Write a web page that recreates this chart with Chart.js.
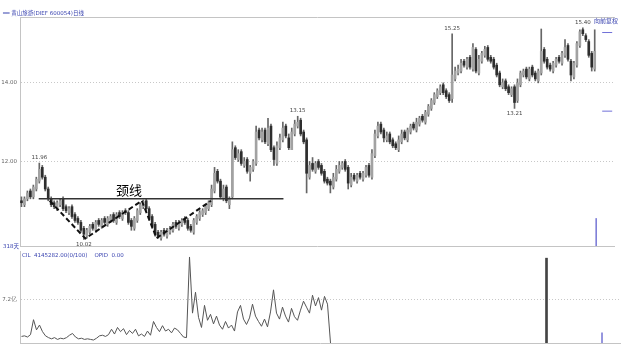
<!DOCTYPE html>
<html>
<head>
<meta charset="utf-8">
<script src="https://cdn.jsdelivr.net/npm/chart.js@4.4.0/dist/chart.umd.min.js"></script>
<style>
  html, body { margin: 0; padding: 0; background: #fff; }
  body { width: 621px; height: 352px; position: relative; overflow: hidden; font-family: "DejaVu Sans", "Noto Sans CJK SC", sans-serif; }
  #priceCanvas { position: absolute; left: 0; top: 0; }
  #volCanvas { position: absolute; left: 0; top: 250px; }
  .txt { position: absolute; white-space: nowrap; line-height: 1; font-size: 5.5px; }
  .blue { color: #3a44b0; }
  .mark { color: #444; transform: translateX(-50%); }
</style>
</head>
<body>
<canvas id="priceCanvas" width="621" height="252"></canvas>
<canvas id="volCanvas" width="621" height="102"></canvas>
<div class="txt blue" style="left:3px;top:11px;">══ 黄山旅游(DIEF 600054)日线</div>
<div class="txt blue" style="left:594px;top:18px;font-size:6px;">向前复权</div>
<div class="txt blue" style="left:3px;top:244px;">318天</div>
<div class="txt blue" style="left:22px;top:253px;">CIL&nbsp;&nbsp;4145282.00(0/100)&nbsp;&nbsp;&nbsp;&nbsp;OPID&nbsp;&nbsp;0.00</div>
<div class="txt" style="left:116px;top:183px;font-size:13px;color:#000;font-family:'Noto Sans CJK SC';">颈线</div>
<script>
// daily candles, index 0 = leftmost bar
var opens = [
  11.0, 10.9, 11.05, 11.25, 11.1, 11.3, 11.5, 11.85, 11.6, 11.3,
  11.05, 10.95, 10.8, 10.9, 11.05, 10.85, 10.7, 10.85, 10.65, 10.55,
  10.45, 10.3, 10.1, 10.2, 10.4, 10.25, 10.5, 10.35, 10.55, 10.4,
  10.5, 10.65, 10.45, 10.7, 10.55, 10.75, 10.7, 10.5, 10.3, 10.5,
  10.7, 10.85, 11.0, 10.8, 10.6, 10.4, 10.2, 10.05, 10.25, 10.1,
  10.2, 10.25, 10.45, 10.3, 10.4, 10.55, 10.5, 10.35, 10.2, 10.45,
  10.55, 10.65, 10.7, 10.8, 10.9, 11.25, 11.75, 11.5, 11.05, 11.35,
  10.9, 11.1, 12.35, 12.05, 12.25, 11.9, 12.05, 11.7, 11.8, 11.95,
  12.8, 12.55, 12.8, 12.45, 12.9, 12.35, 11.95, 12.35, 12.55, 12.9,
  12.6, 12.3, 12.7, 12.9, 13.05, 12.75, 12.55, 11.6, 11.95, 11.75,
  12.0, 11.9, 11.75, 11.55, 11.5, 11.35, 11.55, 11.75, 11.85, 12.0,
  11.85, 11.4, 11.65, 11.5, 11.7, 11.55, 11.65, 11.9, 11.6, 12.15,
  12.65, 12.95, 12.8, 12.55, 12.7, 12.55, 12.45, 12.3, 12.5, 12.75,
  12.55, 12.75, 12.95, 12.8, 12.95, 13.15, 13.0, 13.2, 13.35, 13.5,
  13.65, 13.75, 13.95, 13.8, 13.7, 13.6, 14.1, 14.25, 14.3, 14.55,
  14.4, 14.65, 14.35, 14.85, 14.25, 14.55, 14.7, 14.9, 14.65, 14.6,
  14.45, 14.25, 13.9, 14.05, 13.9, 13.7, 13.9, 13.55, 13.95, 14.2,
  14.35, 14.1, 14.4, 14.25, 14.05, 14.25, 14.85, 14.6, 14.45, 14.3,
  14.45, 14.65, 14.5, 14.7, 14.95, 14.55, 14.15, 14.45, 14.95, 15.35,
  15.2, 15.05, 14.75, 14.35
];
var highs = [
  11.1, 11.1, 11.25, 11.3, 11.4, 11.6, 11.96, 11.9, 11.65, 11.35,
  11.1, 11.0, 11.0, 11.05, 11.1, 10.9, 10.85, 10.9, 10.7, 10.6,
  10.5, 10.35, 10.3, 10.4, 10.45, 10.5, 10.55, 10.55, 10.6, 10.6,
  10.65, 10.7, 10.7, 10.75, 10.75, 10.8, 10.75, 10.55, 10.6, 10.8,
  10.95, 11.02, 11.05, 10.85, 10.65, 10.45, 10.25, 10.25, 10.3, 10.3,
  10.35, 10.45, 10.5, 10.5, 10.55, 10.6, 10.55, 10.4, 10.55, 10.65,
  10.75, 10.8, 10.9, 11.0, 11.4, 11.85, 11.8, 11.55, 11.4, 11.4,
  11.1, 12.5, 12.4, 12.3, 12.3, 12.1, 12.1, 11.9, 12.05, 12.9,
  12.85, 12.85, 12.85, 13.1, 12.95, 12.4, 12.5, 12.7, 13.0, 12.95,
  12.7, 12.85, 13.05, 13.15, 13.1, 12.8, 12.6, 12.0, 12.1, 12.0,
  12.05, 11.95, 11.8, 11.6, 11.55, 11.7, 11.9, 12.0, 12.0, 12.05,
  11.9, 11.7, 11.7, 11.7, 11.75, 11.75, 11.9, 11.95, 12.3, 12.8,
  13.0, 13.0, 12.85, 12.75, 12.75, 12.6, 12.5, 12.65, 12.8, 12.8,
  12.85, 12.95, 13.0, 13.1, 13.15, 13.2, 13.3, 13.45, 13.6, 13.75,
  13.85, 13.95, 14.0, 13.85, 13.75, 15.25, 14.4, 14.45, 14.6, 14.6,
  14.65, 14.7, 15.0, 14.9, 14.7, 14.8, 14.93, 14.95, 14.7, 14.65,
  14.5, 14.3, 14.1, 14.1, 13.95, 13.9, 13.95, 14.1, 14.3, 14.35,
  14.4, 14.4, 14.45, 14.3, 14.35, 15.37, 14.9, 14.65, 14.5, 14.55,
  14.65, 14.7, 14.8, 15.1, 15.0, 14.6, 14.55, 15.05, 15.35, 15.4,
  15.25, 15.1, 14.8, 15.35
];
var lows = [
  10.85, 10.85, 11.0, 11.05, 11.05, 11.25, 11.45, 11.55, 11.25, 11.0,
  10.85, 10.8, 10.75, 10.85, 10.75, 10.7, 10.65, 10.55, 10.45, 10.4,
  10.2, 10.02, 10.05, 10.15, 10.25, 10.2, 10.35, 10.3, 10.4, 10.35,
  10.45, 10.45, 10.4, 10.55, 10.5, 10.65, 10.4, 10.25, 10.25, 10.45,
  10.65, 10.8, 10.75, 10.5, 10.3, 10.1, 10.05, 10.0, 10.1, 10.05,
  10.15, 10.2, 10.3, 10.25, 10.35, 10.4, 10.25, 10.2, 10.15, 10.4,
  10.5, 10.6, 10.65, 10.75, 10.85, 11.2, 11.45, 11.05, 11.0, 10.95,
  10.8, 11.05, 12.05, 12.0, 11.9, 11.85, 11.7, 11.5, 11.75, 11.9,
  12.55, 12.5, 12.45, 12.4, 12.25, 11.9, 11.9, 12.3, 12.5, 12.6,
  12.3, 12.3, 12.65, 12.85, 12.65, 12.45, 11.2, 11.55, 11.75, 11.7,
  11.8, 11.65, 11.45, 11.4, 11.2, 11.3, 11.5, 11.7, 11.8, 11.75,
  11.3, 11.35, 11.5, 11.45, 11.55, 11.5, 11.6, 11.6, 11.55, 12.1,
  12.6, 12.7, 12.5, 12.5, 12.45, 12.35, 12.3, 12.25, 12.45, 12.55,
  12.5, 12.7, 12.8, 12.75, 12.9, 13.0, 12.95, 13.15, 13.3, 13.45,
  13.6, 13.7, 13.7, 13.6, 13.5, 13.5, 14.05, 14.2, 14.25, 14.4,
  14.35, 14.35, 14.3, 14.25, 14.2, 14.5, 14.65, 14.55, 14.5, 14.35,
  14.15, 13.9, 13.85, 13.8, 13.7, 13.65, 13.35, 13.5, 13.9, 14.15,
  14.1, 14.05, 14.15, 14.05, 14.0, 14.2, 14.5, 14.35, 14.3, 14.25,
  14.4, 14.5, 14.45, 14.65, 14.55, 14.05, 14.1, 14.4, 14.9, 15.2,
  15.05, 14.65, 14.3, 14.3
];
var closes = [
  10.95, 11.05, 11.2, 11.1, 11.35, 11.55, 11.8, 11.6, 11.3, 11.05,
  10.9, 10.85, 10.95, 11.0, 10.8, 10.75, 10.8, 10.6, 10.5, 10.45,
  10.25, 10.15, 10.25, 10.35, 10.3, 10.45, 10.4, 10.5, 10.45, 10.55,
  10.6, 10.5, 10.65, 10.6, 10.7, 10.7, 10.45, 10.35, 10.55, 10.75,
  10.9, 10.98, 10.8, 10.55, 10.35, 10.15, 10.1, 10.2, 10.15, 10.25,
  10.3, 10.4, 10.35, 10.45, 10.5, 10.45, 10.3, 10.25, 10.5, 10.6,
  10.7, 10.75, 10.85, 10.95, 11.3, 11.7, 11.5, 11.1, 11.3, 11.0,
  11.05, 12.3, 12.1, 12.2, 11.95, 12.0, 11.75, 11.85, 12.0, 12.75,
  12.6, 12.75, 12.5, 12.85, 12.3, 12.05, 12.4, 12.6, 12.85, 12.65,
  12.35, 12.75, 12.95, 13.0, 12.7, 12.5, 11.7, 11.9, 11.8, 11.95,
  11.85, 11.7, 11.5, 11.45, 11.4, 11.6, 11.8, 11.9, 11.95, 11.8,
  11.45, 11.6, 11.55, 11.65, 11.6, 11.7, 11.85, 11.65, 12.2, 12.7,
  12.9, 12.75, 12.6, 12.65, 12.5, 12.4, 12.35, 12.55, 12.7, 12.6,
  12.8, 12.9, 12.85, 13.0, 13.1, 13.05, 13.25, 13.4, 13.55, 13.7,
  13.8, 13.9, 13.75, 13.65, 13.55, 14.2, 14.3, 14.35, 14.5, 14.45,
  14.6, 14.4, 14.9, 14.3, 14.6, 14.75, 14.85, 14.6, 14.55, 14.4,
  14.2, 13.95, 14.0, 13.85, 13.75, 13.85, 13.5, 14.0, 14.25, 14.3,
  14.15, 14.35, 14.2, 14.1, 14.3, 14.8, 14.55, 14.4, 14.35, 14.5,
  14.6, 14.55, 14.75, 14.9, 14.6, 14.2, 14.5, 15.0, 15.3, 15.25,
  15.1, 14.7, 14.4, 14.8
];

// volume in 亿, series stops at bar 103
var volumes = [
  1.1, 1.2, 1.0, 1.4, 3.9, 2.2, 3.0, 1.9, 1.2, 0.9,
  0.7, 0.9, 0.6, 0.8, 0.7, 0.9, 1.3, 1.6, 1.0, 0.7,
  0.8, 0.6, 0.7, 0.6, 0.5, 0.8, 1.2, 1.3, 1.1, 1.4,
  2.3, 1.5, 2.6, 1.9, 2.4, 1.4, 2.1, 1.6, 2.3, 1.2,
  1.5, 1.1, 2.0, 1.3, 3.6, 2.6, 1.9, 2.9, 2.0, 2.3,
  1.7, 2.5, 2.2, 1.6, 1.0, 0.9, 14.4, 5.0, 8.5, 4.3,
  2.6, 6.3, 3.8, 4.8, 3.2, 4.5, 3.0, 2.3, 3.6, 2.5,
  3.0, 2.0, 5.2, 6.3, 4.0, 3.1, 4.2, 6.5, 4.5, 3.6,
  2.8, 4.0, 2.7, 5.2, 8.9, 5.0, 4.0, 6.0, 4.5, 3.5,
  5.8, 4.4, 3.8, 5.5, 7.0, 6.0, 5.0, 8.0, 6.2, 7.6,
  5.5, 7.8, 6.5, 0
];
var spikeIdx = 175, spikeVol = 14.2;
var cursorIdx = 193, cursorVol = 1.7, cursorPrice = [9.85, 10.55];

// neckline and the W pattern (bar index, price)
var neckX = [5.8, 88.2];
var neckY = [11.05, 11.05];
var patternX = [9.5, 21.5, 40.5, 45.5, 63.8];
var patternY = [11.0, 10.04, 11.0, 10.05, 11.0];

// right side price markers
var sideMarks = [15.28, 13.28];

// high / low labels
var markIdx = [6, 21, 93, 145, 166, 189];
var markText = ['11.96', '10.02', '13.15', '15.25', '13.21', '15.40'];
var markSide = ['high', 'low', 'high', 'high', 'low', 'high'];

var priceTicks = [12, 14];
var volTicks = [7.2];

function pts(xs, ys) {
  return xs.map(function (x, i) { return { x: x, y: ys[i] }; });
}

var wickData = highs.map(function (h, i) { return { x: i, y: [lows[i], h] }; });
var bodyData = opens.map(function (o, i) { return { x: i, y: [o, closes[i]] }; });
var bodyColors = opens.map(function (o, i) { return closes[i] >= o ? '#a2a2a2' : '#2e2e2e'; });

var framePlugin = {
  id: 'frame',
  afterDraw: function (chart, args, opts) {
    var ctx = chart.ctx, a = chart.chartArea;
    ctx.save();
    ctx.strokeStyle = '#c4c4c4';
    ctx.lineWidth = 1;
    ctx.beginPath();
    if (opts.top) { ctx.moveTo(a.left, a.top + 0.5); ctx.lineTo(a.right, a.top + 0.5); }
    if (opts.bottom) { ctx.moveTo(a.left, a.bottom + 0.5); ctx.lineTo(a.right, a.bottom + 0.5); }
    ctx.stroke();
    ctx.restore();
  }
};

function yAxis(min, max, ticks, fmt) {
  return {
    min: min, max: max,
    afterFit: function (s) { s.width = 20; s.paddingTop = 0; s.paddingBottom = 0; },
    afterBuildTicks: function (s) { s.ticks = ticks.map(function (v) { return { value: v }; }); },
    grid: { color: '#c8c8c8', drawTicks: false },
    border: { display: true, color: '#c4c4c4', dash: [1, 2] },
    ticks: { padding: 3, color: '#666', font: { size: 5.5, family: 'DejaVu Sans' }, callback: fmt }
  };
}

var xAxis = { type: 'linear', min: -0.5, max: 199.83, offset: false, display: false };

var priceChart = new Chart(document.getElementById('priceCanvas').getContext('2d'), {
  type: 'bar',
  data: {
    datasets: [
      { type: 'line', data: pts(neckX, neckY), borderColor: '#333', borderWidth: 1.5, pointRadius: 0, order: 0 },
      { type: 'line', data: pts(patternX, patternY), borderColor: '#111', borderWidth: 2, borderDash: [5, 3], pointRadius: 0, order: 0 },
      { type: 'scatter', data: sideMarks.map(function (v) { return { x: 197.2, y: v }; }), pointStyle: 'line', pointRadius: 5, borderColor: '#7070d8', borderWidth: 1, order: 0 },
      { data: bodyData, backgroundColor: bodyColors, barThickness: 2, minBarLength: 1, grouped: false, order: 1 },
      { data: wickData, backgroundColor: '#666', barThickness: 1, grouped: false, order: 2 },
      { data: [{ x: cursorIdx + 0.5, y: cursorPrice }], backgroundColor: '#8080d8', barThickness: 1, grouped: false, order: 1 }
    ]
  },
  options: {
    responsive: false,
    animation: false,
    layout: { padding: { top: 17, bottom: 2, left: 0, right: 0 } },
    plugins: { legend: { display: false }, tooltip: { enabled: false }, frame: { top: true, bottom: true } },
    scales: {
      x: xAxis,
      y: yAxis(9.85, 15.675, priceTicks, function (v) { return v.toFixed(2); })
    }
  },
  plugins: [framePlugin]
});

var volChart = new Chart(document.getElementById('volCanvas').getContext('2d'), {
  type: 'bar',
  data: {
    datasets: [
      { type: 'line', data: volumes.map(function (v, i) { return { x: i, y: v }; }), borderColor: '#555', borderWidth: 1, pointRadius: 0, tension: 0, order: 0 },
      { data: [{ x: spikeIdx, y: spikeVol }], backgroundColor: '#444', barThickness: 2, grouped: false, order: 1 },
      { data: [{ x: cursorIdx + 0.5, y: cursorVol }], backgroundColor: '#8080d8', barThickness: 1, grouped: false, order: 1 }
    ]
  },
  options: {
    responsive: false,
    animation: false,
    layout: { padding: { top: 1, bottom: 9, left: 0, right: 0 } },
    plugins: { legend: { display: false }, tooltip: { enabled: false }, frame: { top: false, bottom: true } },
    scales: {
      x: xAxis,
      y: yAxis(0, 15.4, volTicks, function (v) { return v + '亿'; })
    }
  },
  plugins: [framePlugin]
});

// place the high / low labels as text next to their bars
var xs = priceChart.scales.x, ys = priceChart.scales.y;
markIdx.forEach(function (idx, k) {
  var d = document.createElement('div');
  d.className = 'txt mark';
  d.textContent = markText[k];
  var px = xs.getPixelForValue(idx);
  var py = markSide[k] === 'high' ? ys.getPixelForValue(highs[idx]) - 8 : ys.getPixelForValue(lows[idx]) + 3;
  d.style.left = px + 'px';
  d.style.top = py + 'px';
  document.body.appendChild(d);
});
</script>
</body>
</html>
